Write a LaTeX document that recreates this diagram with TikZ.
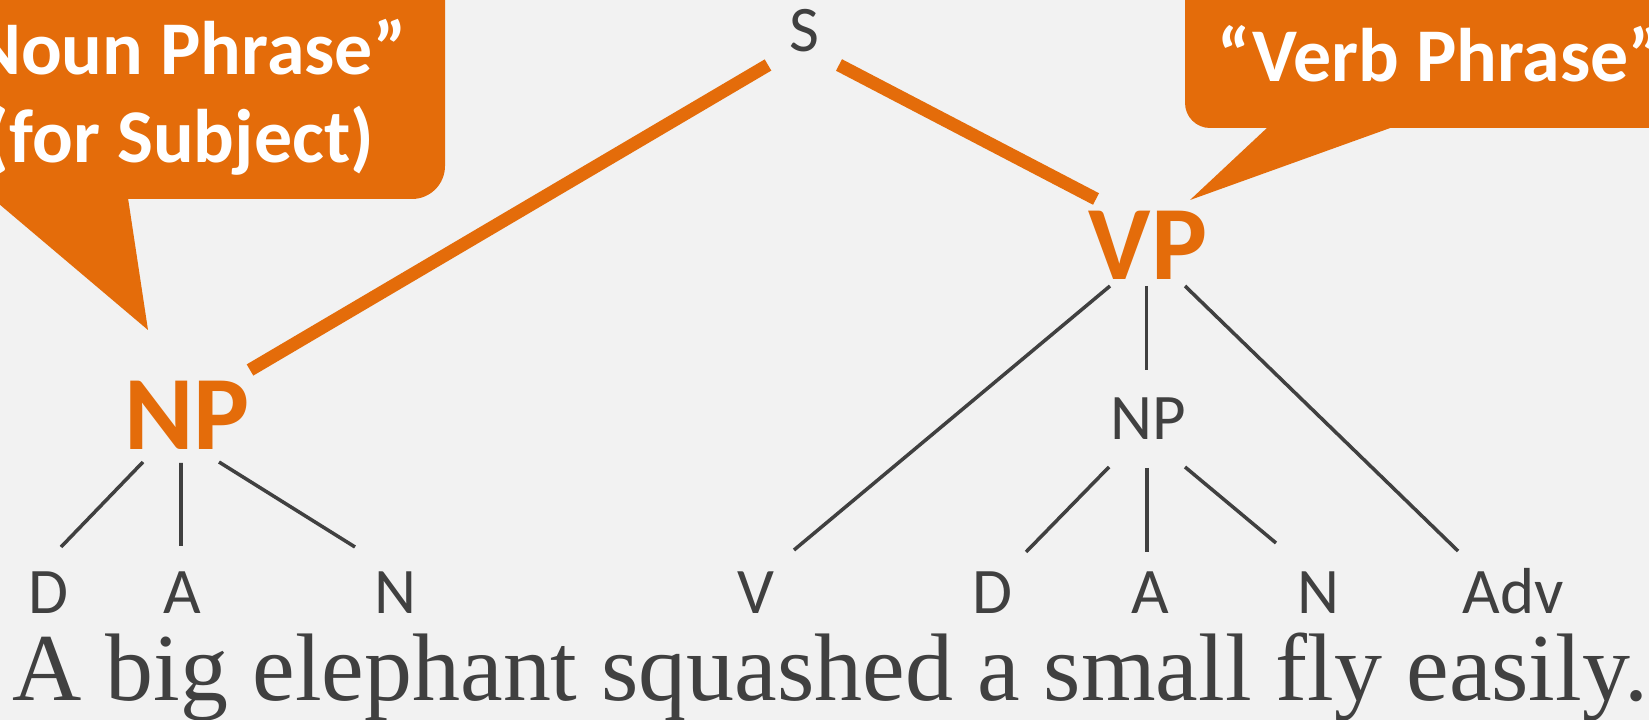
\documentclass[tikz,border=0pt]{standalone}
\usepackage{fontspec}
\setmainfont{Liberation Serif}
\newfontfamily\calibri{Carlito}
\usetikzlibrary{positioning}
\definecolor{phraseorange}{RGB}{228,108,10}
\definecolor{textgray}{RGB}{64,64,64}
\definecolor{slidebg}{RGB}{242,242,242}

\begin{document}
\begin{tikzpicture}
    [every node/.style={inner sep=0pt, anchor=base, text=textgray, font=\calibri\fontsize{18.5}{20}\selectfont},
     big/.style={text=phraseorange, font=\calibri\bfseries\fontsize{30}{34}\selectfont},
     bubble/.style={text=white, font=\calibri\bfseries\fontsize{21.6}{25}\selectfont},
     branch/.style={draw=textgray, line width=1pt},
     trunk/.style={draw=phraseorange, line width=3.7pt}]
  \useasboundingbox (0,0) rectangle (16.49,-7.2);
  \clip (0,0) rectangle (16.49,-7.2);
  \fill[slidebg] (0,0) rectangle (16.49,-7.2);

  % speech bubbles
  \fill[phraseorange, rounded corners=0.33cm] (-0.85,0.5) rectangle (4.45,-1.99);
  \fill[phraseorange] (-0.08,-1.98) -- (1.48,-3.30) -- (1.28,-1.98) -- cycle;
  \fill[phraseorange, rounded corners=0.25cm] (11.85,0.5) rectangle (17.2,-1.28);
  \fill[phraseorange] (12.68,-1.27) -- (11.90,-2.00) -- (13.93,-1.27) -- cycle;
  \node[bubble] (noun1) at (1.72,-0.75) {“Noun Phrase”};
  \node[bubble] (noun2) at (1.80,-1.63) {(for Subject)};
  \node[bubble, anchor=base west] (verb) at (12.17,-0.82) {“Verb Phrase”};

  % tree
  \node (s) at (8.04,-0.52) {S};
  \node[big] (np) at (1.87,-4.50) {NP};
  \node[big] (vp) at (11.48,-2.80) {VP};
  \node (obj) at (11.48,-4.40) {NP};
  \node (d1) at (0.48,-6.14) {D};
  \node (a1) at (1.82,-6.14) {A};
  \node (n1) at (3.95,-6.14) {N};
  \node (v) at (7.56,-6.14) {V};
  \node (d2) at (9.92,-6.14) {D};
  \node (a2) at (11.50,-6.14) {A};
  \node (n2) at (13.18,-6.14) {N};
  \node (adv) at (15.13,-6.14) {Adv};
  \node[anchor=base west, font=\rmfamily\fontsize{27.3}{30}\selectfont] (sent) at (0.12,-7.01)
    {A big elephant squashed a small fly easily.};

  \draw[trunk] ([shift={(-0.36,-0.13)}]s.base) -- ([shift={(0.63,0.80)}]np.base);
  \draw[trunk] ([shift={(0.35,-0.13)}]s.base) -- ([shift={(-0.52,0.81)}]vp.base);

  \foreach \from/\fx/\fy/\to/\tx/\ty in {np/-0.44/-0.12/d1/0.13/0.67, np/-0.06/-0.13/a1/-0.01/0.68,
      np/0.32/-0.12/n1/-0.40/0.67, vp/-0.38/-0.06/v/0.38/0.64, vp/-0.015/-0.06/obj/-0.015/0.70,
      vp/0.37/-0.06/adv/-0.55/0.63, obj/-0.39/-0.27/d2/0.34/0.62, obj/-0.01/-0.28/a2/-0.03/0.62,
      obj/0.37/-0.27/n2/-0.42/0.71}
    \draw[branch] ([shift={(\fx,\fy)}]\from.base) -- ([shift={(\tx,\ty)}]\to.base);
\end{tikzpicture}
\end{document}
